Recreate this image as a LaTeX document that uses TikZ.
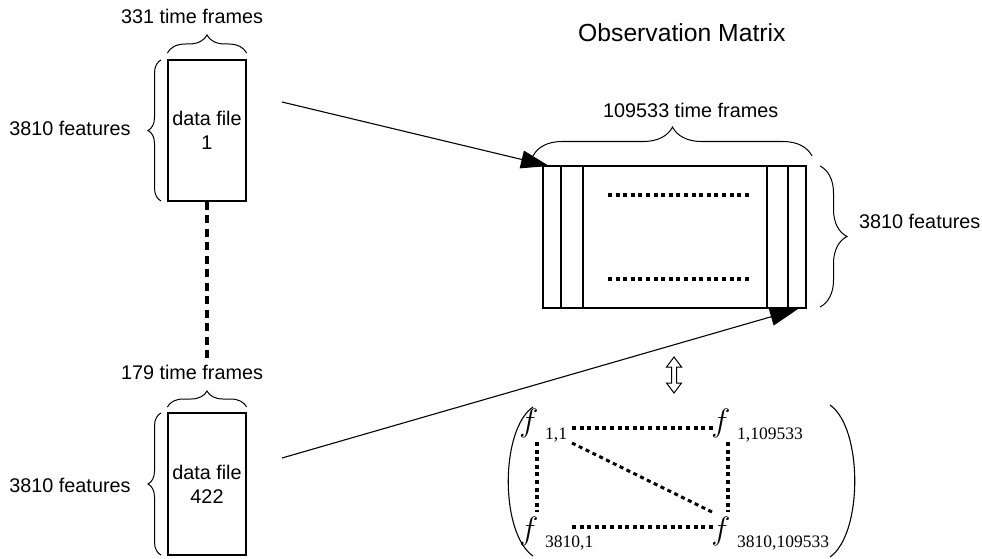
\documentclass[tikz,border=0pt]{standalone}
\usepackage{fontspec}
\setmainfont{Liberation Sans}
\newfontfamily\entryfont{Liberation Serif}
\usetikzlibrary{arrows.meta,decorations.pathreplacing}
\begin{document}
\begin{tikzpicture}[x=1pt,y=-1pt,
  lbl/.style={font=\fontsize{19.8}{23}\selectfont, inner sep=0pt},
  filebox/.style={draw, line width=1.2pt, minimum width=78pt, minimum height=141pt,
    inner sep=0pt, align=center, font=\fontsize{19.8}{24}\selectfont},
  brc/.style={decorate, decoration={brace, amplitude=#1}, line width=1pt},
  bigarrow/.style={line width=1.1pt, -{Triangle[length=28pt,width=18pt]}},
  dotline/.style={line width=3.5pt, dash pattern=on 4pt off 3.6pt},
  dashline/.style={line width=4pt, dash pattern=on 8pt off 5.5pt},
  fsym/.style={font=\fontsize{24.88}{25}\selectfont, scale=1.3, inner sep=0pt, anchor=base west},
  fsub/.style={font=\entryfont\fontsize{17.5}{17.5}\selectfont, inner sep=0pt, anchor=base west},
]
\useasboundingbox (0,0) rectangle (982,559);

% data files
\node[filebox] (df1) at (207,130.5) {data file\\1};
\node[filebox, minimum height=142pt] (df2) at (207,484) {data file\\422};

% braces and labels of data file 1
\draw[brc=18] (df1.north west |- 0,53) -- (df1.north east |- 0,53);
\node[lbl] (t1) at (192,16) {331 time frames};
\draw[brc=13] (161,201) -- (161,60);
\node[lbl] (r1) at (70,128) {3810 features};

% braces and labels of data file 422
\draw[brc=16] (df2.north west |- 0,407) -- (df2.north east |- 0,407);
\node[lbl] (t2) at (192,372) {179 time frames};
\draw[brc=13] (161,555) -- (161,413);
\node[lbl] (r2) at (70,485) {3810 features};

% dashed link between the files
\coordinate (dashend) at (207,358);
\draw[dashline] (df1.south) -- (dashend);

% observation matrix
\node[lbl, font=\fontsize{24.7}{28}\selectfont, anchor=west] (title) at (578,32.5) {Observation Matrix};
\node[draw, line width=1.2pt, minimum width=263pt, minimum height=142pt, inner sep=0pt] (obs) at (674.5,237) {};
\foreach \xx in {561,583,767,788}
  \draw[line width=1.1pt] (\xx,166) -- (\xx,308);
\draw[dotline] (608,195) -- (749,195);
\draw[dotline] (608,279) -- (749,279);
\draw[brc=29] (533,156) -- (812,156);
\node[lbl, anchor=west] (tm) at (603,110) {109533 time frames};
\draw[brc=27] (820,166) -- (820,307);
\node[lbl, anchor=west] (fm) at (859,221) {3810 features};

% arrows from the files into the matrix
\coordinate (a1s) at (282,102);
\coordinate (a1e) at (549,166);
\coordinate (a2s) at (282,458);
\coordinate (a2e) at (798,309);
\draw[bigarrow] (a1s) -- (a1e);
\draw[bigarrow] (a2s) -- (a2e);

% hollow double arrow
\draw[line width=1pt, fill=white] (674,357) -- (681.5,367) -- (676.5,367) -- (676.5,383)
  -- (681.5,383) -- (674,393) -- (666.5,383) -- (671.5,383) -- (671.5,367) -- (666.5,367) -- cycle;

% element matrix
\draw[line width=1.1pt] (533,407) .. controls (500,430) and (500,533) .. (533,556);
\draw[line width=1.1pt] (830,405) .. controls (863,428) and (863,534) .. (830,557);

\node[fsym] (f11) at (519,431) {$f$};
\node[fsub] (s11) at (545,439) {1,1};
\node[fsym] (f1n) at (711,431) {$f$};
\node[fsub] (s1n) at (737,439) {1,109533};
\node[fsym] (fm1) at (519,539) {$f$};
\node[fsub] (sm1) at (545,547) {3810,1};
\node[fsym] (fmn) at (711,539) {$f$};
\node[fsub] (smn) at (737,547) {3810,109533};

\draw[dotline] (572,428) -- (713,428);
\draw[dotline] (572,527) -- (713,527);
\draw[dotline] (537,442) -- (537,512);
\draw[dotline] (728,442) -- (728,512);
\draw[dotline, line width=3pt] (572,443) -- (712,512);
\end{tikzpicture}
\end{document}
